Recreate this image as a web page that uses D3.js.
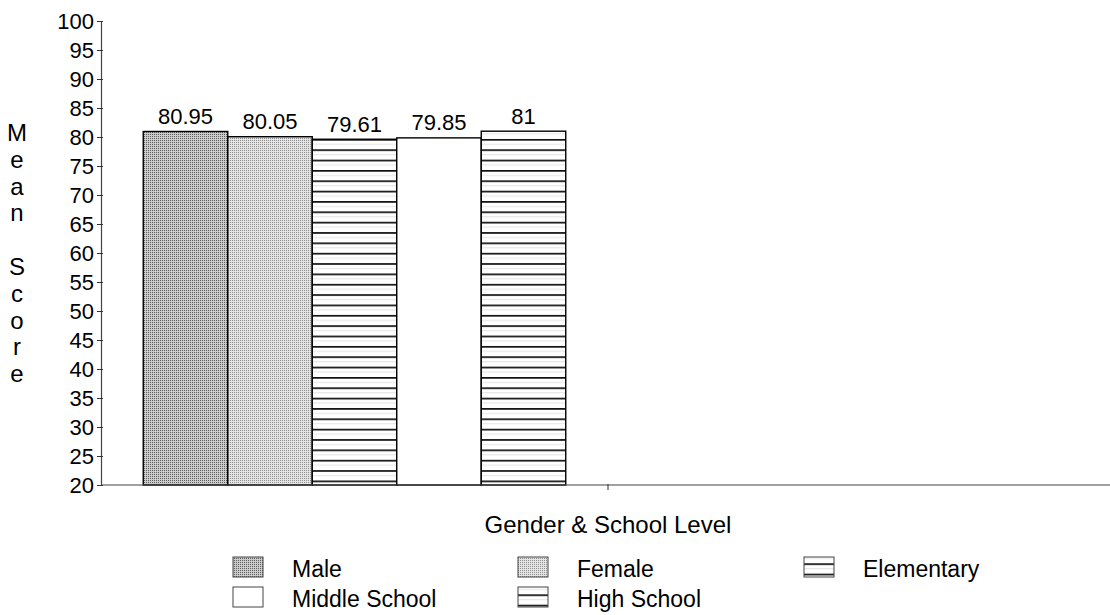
<!DOCTYPE html>
<html>
<head>
<meta charset="utf-8">
<script src="https://cdn.jsdelivr.net/npm/d3@7/dist/d3.min.js"></script>
<style>
  html, body { margin: 0; padding: 0; background: #fff; }
  svg { display: block; }
  text { font-family: "Liberation Sans", Arial, sans-serif; fill: #000; }
</style>
</head>
<body>
<div id="chart"></div>
<script>
// ---- data ----
const categories = ["Male", "Female", "Elementary", "Middle School", "High School"];
const values = [80.95, 80.05, 79.61, 79.85, 81];
const valueLabels = ["80.95", "80.05", "79.61", "79.85", "81"];
const groups = ["Gender & School Level", "(empty)"];
const yTicks = [20, 25, 30, 35, 40, 45, 50, 55, 60, 65, 70, 75, 80, 85, 90, 95, 100];
const legendOrder = ["Male", "Female", "Elementary", "Middle School", "High School"];
const fills = ["url(#dotDark)", "url(#dotLight)", "url(#stripes)", "#ffffff", "url(#stripes)"];

const W = 1110, H = 615;
const svg = d3.select("#chart").append("svg").attr("width", W).attr("height", H);

// ---- patterns ----
const defs = svg.append("defs");
function dotPattern(id, bg, dot) {
  const p = defs.append("pattern").attr("id", id).attr("patternUnits", "userSpaceOnUse")
    .attr("width", 2).attr("height", 2);
  p.append("rect").attr("width", 2).attr("height", 2).attr("fill", bg);
  p.append("rect").attr("width", 1).attr("height", 1).attr("fill", dot);
}
dotPattern("dotDark", "#cbcbcb", "#5e5e5e");
dotPattern("dotLight", "#e4e4e4", "#909090");
const sp = defs.append("pattern").attr("id", "stripes").attr("patternUnits", "userSpaceOnUse")
  .attr("x", 0).attr("y", 4.4).attr("width", 20).attr("height", 10.35);
sp.append("rect").attr("width", 20).attr("height", 10.35).attr("fill", "#fff");
sp.append("rect").attr("y", -0.3).attr("width", 20).attr("height", 2).attr("fill", "#111");
sp.append("rect").attr("y", 5.2).attr("width", 20).attr("height", 0.6).attr("fill", "#d0d0d0");

// ---- scales ----
const y = d3.scaleLinear().domain([20, 100]).range([485, 21]);
const xOuter = d3.scaleBand().domain(groups).range([101, 1115]).paddingInner(0).paddingOuter(0);
const xInner = d3.scaleBand().domain(categories).range([0, xOuter.bandwidth()])
  .paddingInner(0).paddingOuter(0.5);
const g0 = xOuter(groups[0]);

// ---- bars ----
const bars = svg.append("g");
bars.selectAll("rect").data(categories).join("rect")
  .attr("x", d => g0 + xInner(d))
  .attr("y", (d, i) => y(values[i]))
  .attr("width", xInner.bandwidth())
  .attr("height", (d, i) => y(20) - y(values[i]))
  .attr("fill", (d, i) => fills[i])
  .attr("stroke", "#000")
  .attr("stroke-width", 1.4);

bars.selectAll("text").data(categories).join("text")
  .attr("x", d => g0 + xInner(d) + xInner.bandwidth() / 2)
  .attr("y", (d, i) => y(values[i]) - 7.5)
  .attr("text-anchor", "middle")
  .attr("font-size", 22)
  .text((d, i) => valueLabels[i]);

// ---- y axis ----
const yAxis = d3.axisLeft(y).tickValues(yTicks).tickSizeInner(4).tickSizeOuter(0).tickPadding(3);
const ya = svg.append("g").attr("transform", "translate(101,0)").call(yAxis);
ya.select(".domain").attr("stroke", "#444").attr("stroke-width", 1.2);
ya.selectAll(".tick line").attr("x2", -4).attr("x1", 2).attr("stroke", "#333");
ya.selectAll(".tick text").attr("font-size", 22).attr("font-family", "Liberation Sans, Arial, sans-serif")
  .attr("fill", "#000");

// ---- x axis ----
const xa = svg.append("g");
xa.append("line").attr("x1", xOuter.range()[0]).attr("x2", W)
  .attr("y1", y(20)).attr("y2", y(20)).attr("stroke", "#444").attr("stroke-width", 1.2);
xa.selectAll("line.tk").data(groups.slice(1)).join("line").attr("class", "tk")
  .attr("x1", d => xOuter(d)).attr("x2", d => xOuter(d))
  .attr("y1", y(20) - 1).attr("y2", y(20) + 5).attr("stroke", "#333");

// ---- axis titles ----
svg.append("text").attr("x", xOuter(groups[1])).attr("y", 533)
  .attr("text-anchor", "middle").attr("font-size", 24).text(groups[0]);

const yTitle = "Mean Score".split("");
svg.append("g").selectAll("text").data(yTitle).join("text")
  .attr("x", 17).attr("y", (d, i) => 141 + i * 26.8)
  .attr("text-anchor", "middle").attr("font-size", 24).text(d => d);

// ---- legend ----
const legCols = [233, 518, 804];
const legRows = [557, 587];
const leg = svg.append("g");
legendOrder.forEach((name, i) => {
  const c = i % 3, r = Math.floor(i / 3);
  const k = categories.indexOf(name);
  leg.append("rect").attr("x", legCols[c]).attr("y", legRows[r])
    .attr("width", 30).attr("height", 20)
    .attr("fill", fills[k]).attr("stroke", "#444").attr("stroke-width", 1);
  leg.append("text").attr("x", legCols[c] + 59).attr("y", legRows[r] + 20)
    .attr("font-size", 23).text(name);
});
</script>
</body>
</html>
